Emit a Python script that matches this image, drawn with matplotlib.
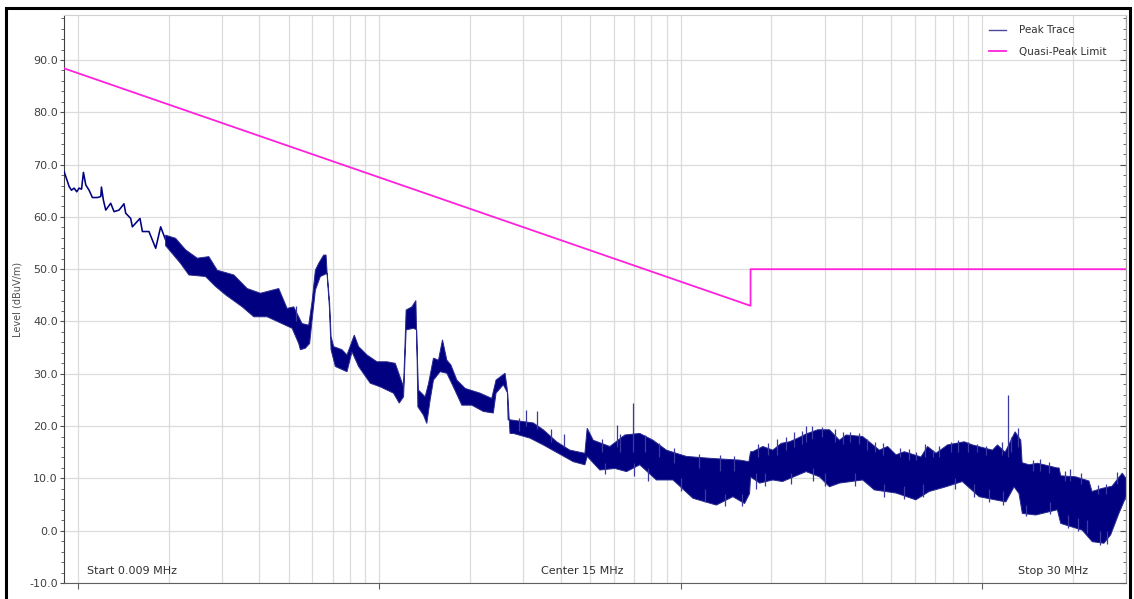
import numpy as np
import matplotlib
matplotlib.use('Agg')
import matplotlib.pyplot as plt
from matplotlib.patches import Rectangle
from matplotlib.ticker import FixedLocator, NullFormatter, MultipleLocator

# Peak trace, low-frequency part read as a single line (MHz, dBuV/m)
trace_f = [0.009, 0.00920, 0.00936, 0.00953, 0.00972, 0.00992, 0.01010, 0.01029,
           0.01044, 0.01063, 0.01090, 0.01118, 0.01162, 0.01192, 0.01198, 0.01216,
           0.01238, 0.01286, 0.01319, 0.01370, 0.01423, 0.01442, 0.01498, 0.01517,
           0.01608, 0.01638, 0.01722, 0.01813, 0.01883, 0.01956]
trace_db = [68.7, 67.1, 65.8, 65.1, 65.5, 64.8, 65.5, 65.3,
            68.5, 66.1, 65.1, 63.7, 63.7, 63.9, 65.7, 63.2,
            61.3, 62.6, 61.0, 61.3, 62.5, 60.7, 59.7, 58.1,
            59.7, 57.2, 57.2, 54.0, 58.1, 55.6]

# Peak trace, dense part: upper edge of the band
upper_f = [0.01956, 0.02111, 0.02279, 0.02491, 0.02721, 0.02901, 0.03292,
           0.03647, 0.04036, 0.04640, 0.04947, 0.05203, 0.05546, 0.05834, 0.05987,
           0.06139, 0.06295, 0.06540, 0.06661, 0.06712, 0.06847, 0.06921, 0.07059,
           0.07523, 0.07816, 0.08264, 0.08540, 0.09106, 0.09827, 0.1061, 0.1130,
           0.1204, 0.1228, 0.1283, 0.1323, 0.1331, 0.1349, 0.1420, 0.1458, 0.1513,
           0.1572, 0.1621, 0.1676, 0.1728, 0.1809, 0.1927, 0.2160, 0.2361, 0.2440,
           0.2614, 0.2660, 0.2675, 0.2715, 0.3244, 0.3500, 0.3877, 0.4290, 0.4810,
           0.4895, 0.5125, 0.5820, 0.6526, 0.7315, 0.8095, 0.8966, 1.044, 1.279,
           1.568, 1.683, 1.705, 1.733, 1.873, 2.021, 2.155, 2.296, 2.446, 2.607,
           2.849, 3.115, 3.362, 3.538, 4.015, 4.280, 4.559, 4.858, 5.180, 5.516,
           6.266, 6.590, 7.026, 7.387, 7.675, 8.717, 9.289, 10.82, 11.24, 11.92,
           12.86, 13.43, 13.57, 14.31, 15.25, 16.05, 17.72, 17.99, 18.22, 20.43,
           22.61, 23.14, 25.02, 26.95, 29.15, 30.0]
upper_db = [56.5, 55.9, 53.7, 52.1, 52.4, 49.8, 48.9,
            46.3, 45.4, 46.3, 42.5, 42.8, 39.6, 39.3, 43.8,
            49.8, 51.1, 52.7, 52.7, 49.5, 43.5, 37.1, 35.2,
            34.6, 33.6, 37.4, 35.2, 33.6, 32.3, 32.3, 32.0,
            27.5, 42.2, 42.8, 44.0, 37.1, 26.9, 25.6, 28.2, 33.0,
            32.6, 36.5, 32.6, 31.7, 28.8, 27.2, 26.3, 25.3, 28.8,
            30.1, 26.9, 21.2, 21.2, 20.6, 19.3, 17.0, 15.4, 14.8,
            19.6, 17.3, 16.1, 18.3, 18.6, 17.3, 15.4, 14.2, 13.8,
            13.5, 13.2, 15.1, 15.1, 16.1, 15.4, 16.7, 17.0, 17.7, 18.5,
            19.3, 19.3, 17.3, 18.3, 18.0, 16.7, 15.4, 16.1, 14.5, 15.1,
            14.1, 16.1, 14.8, 15.7, 16.4, 17.0, 16.4, 15.4, 16.4, 15.0,
            18.9, 17.3, 13.0, 12.6, 12.9, 12.6, 12.0, 12.0, 10.5, 10.3,
            9.5, 7.5, 8.1, 8.5, 11.0, 10.0]

# Peak trace, dense part: lower edge of the band
lower_f = [0.01956, 0.02193, 0.02336, 0.02653, 0.02864, 0.03091, 0.03512, 0.03836,
           0.04248, 0.05140, 0.05405, 0.05475, 0.05689, 0.05876, 0.05987, 0.06139,
           0.06377, 0.06712, 0.06832, 0.06921, 0.07150, 0.07816, 0.08121, 0.08540,
           0.09338, 0.1008, 0.1115, 0.1165, 0.1204, 0.1228, 0.1299, 0.1331, 0.1343,
           0.1402, 0.1438, 0.1475, 0.1513, 0.1592, 0.1676, 0.1762, 0.1879, 0.2028,
           0.2215, 0.2390, 0.2440, 0.2580, 0.2668, 0.2715, 0.2785, 0.3162, 0.3500,
           0.3925, 0.4400, 0.4810, 0.4895, 0.5393, 0.6046, 0.6611, 0.7315, 0.8306,
           0.9430, 1.098, 1.313, 1.490, 1.629, 1.692, 1.705, 1.827, 2.021, 2.176,
           2.607, 2.886, 3.115, 3.362, 4.015, 4.389, 5.180, 6.025, 6.675, 7.584,
           8.592, 9.775, 11.98, 12.76, 13.25, 13.59, 15.06, 17.76, 18.22, 21.48,
           23.19, 25.35, 26.68, 28.41, 30.0]
lower_db = [54.5, 51.1, 48.9, 48.6, 46.7, 45.1, 42.8, 40.9,
            40.9, 38.7, 35.8, 34.6, 34.9, 35.8, 40.3, 46.0,
            48.6, 49.2, 42.8, 34.6, 31.4, 30.4, 34.2, 31.4,
            28.2, 27.5, 26.3, 24.4, 25.6, 38.4, 38.7, 38.4, 23.7,
            22.1, 20.5, 25.0, 28.8, 30.4, 30.1, 27.5, 24.0, 24.0,
            22.8, 22.5, 26.3, 27.9, 26.3, 18.6, 18.6, 17.7, 16.4,
            14.8, 13.2, 12.6, 14.2, 11.6, 11.9, 11.3, 12.6, 9.7,
            9.7, 6.2, 4.9, 6.5, 5.2, 7.1, 10.3, 9.1, 9.7, 9.4,
            11.3, 10.3, 8.4, 9.1, 9.7, 7.8, 7.2, 5.9, 7.5, 8.4,
            9.4, 6.5, 5.5, 8.4, 7.1, 3.3, 3.0, 4.0, 1.4, 0.1,
            -2.1, -2.4, -0.8, 3.3, 6.5]

# narrow spikes sticking out of the band (MHz, bottom, top)
spike_f = [0.05311, 0.29, 0.3062, 0.3344, 0.37, 0.41, 0.55, 0.56, 0.6125, 0.63,
           0.6953, 0.70, 0.76, 0.78, 0.85, 0.95, 1.0, 1.15, 1.2, 1.35, 1.40, 1.50, 1.60,
           1.78, 1.80, 1.90, 1.95, 2.08, 2.24, 2.33, 2.38, 2.52, 2.607, 2.72, 2.75,
           2.95, 3.00, 3.25, 3.45, 3.65, 3.80, 3.90, 4.15, 4.42, 4.70, 4.72, 5.35,
           5.50, 5.70, 6.05, 6.35, 6.45, 6.85, 7.20, 7.90, 8.10, 8.30, 9.0, 9.40,
           9.6, 10.3, 10.5, 11.6, 11.7, 12.22, 12.5, 13.1, 14.0, 14.7, 15.6, 16.6,
           16.8, 18.8, 19.2, 19.6, 20.8, 21.3, 22.3, 24.2, 24.6, 25.7, 26.0, 28.0]
spike_lo = [40.0, 19.0, 20.0, 19.5, 17.0, 16.0, 15.0, 10.8, 16.0, 15.0,
            15.0, 10.5, 15.0, 9.5, 14.0, 13.0, 7.5, 12.0, 5.5, 11.5, 4.8, 11.5, 4.8,
            8.0, 14.0, 8.5, 14.5, 14.5, 15.5, 9.0, 16.0, 16.5, 17.0, 17.5, 9.5,
            18.0, 8.5, 17.0, 16.5, 17.0, 8.5, 16.5, 15.5, 15.0, 14.5, 6.5, 14.0,
            6.0, 13.5, 13.5, 6.5, 14.0, 14.0, 14.0, 15.0, 8.0, 15.0, 15.0, 6.5,
            15.0, 14.5, 5.5, 14.5, 5.0, 14.0, 15.0, 16.0, 2.8, 11.5, 11.5, 11.0,
            3.2, 9.5, 0.5, 9.5, 0.0, 9.0, -0.5, 7.0, -2.8, 7.0, -2.6, 9.0]
spike_hi = [43.0, 21.5, 23.1, 22.8, 19.5, 18.4, 17.5, 13.0, 20.2, 18.5,
            24.4, 13.0, 18.3, 12.0, 16.8, 15.8, 10.0, 14.6, 8.0, 14.5, 7.0, 14.2, 7.0,
            11.0, 16.5, 11.0, 16.8, 17.5, 18.0, 11.0, 18.8, 19.0, 20.0, 20.0, 12.0,
            19.8, 11.0, 19.5, 18.8, 18.9, 11.0, 18.6, 17.5, 17.0, 16.8, 9.0, 15.8,
            8.5, 15.6, 15.0, 9.0, 16.6, 15.5, 16.2, 17.0, 10.0, 17.4, 17.0, 9.0,
            16.5, 16.2, 8.0, 17.0, 7.5, 25.9, 18.0, 19.6, 5.0, 13.5, 13.8, 13.2,
            5.5, 11.5, 3.0, 11.8, 2.5, 11.0, 2.0, 8.8, 0.0, 9.0, 0.0, 11.3]

# Quasi-peak limit
limit_f = [0.009, 1.705, 1.705, 30.0]
limit_db = [88.4, 43.0, 50.0, 50.0]

fig = plt.figure(figsize=(11.34, 5.99), dpi=100)
ax = fig.add_axes([64 / 1134, 1 - 583 / 599, 1062 / 1134, 568 / 599])

ax.set_xscale('log')
ax.set_xlim(0.009, 30)
ax.set_ylim(-10, 98.6)

grid_c = '#dcdcdc'
minor_pos = [m * 10.0 ** e for e in range(-2, 2) for m in range(1, 10)]
minor_pos = [p for p in minor_pos if 0.009 <= p <= 30]
for p in minor_pos:
    ax.axvline(p, color=grid_c, lw=0.9, zorder=0)
for yv in range(-10, 100, 10):
    ax.axhline(yv, color=grid_c, lw=0.9, zorder=0)

navy = '#000080'
ax.plot(trace_f, trace_db, color=navy, lw=1.15, zorder=3)
band_x = list(upper_f) + list(lower_f[::-1])
band_y = list(upper_db) + list(lower_db[::-1])
ax.fill(band_x, band_y, facecolor=navy, edgecolor='#2a2a90', lw=0.7, zorder=3)
ax.vlines(spike_f, spike_lo, spike_hi, color='#3a3aa0', lw=0.9, zorder=3)
ax.plot([], [], color='#4a4a9a', lw=1.0, label='Peak Trace')
ax.plot(limit_f, limit_db, color='#ff22dd', lw=1.3, zorder=4, label='Quasi-Peak Limit')

ax.xaxis.set_major_locator(FixedLocator([0.01, 0.1, 1, 10]))
ax.xaxis.set_minor_locator(FixedLocator([]))
ax.xaxis.set_major_formatter(NullFormatter())
ax.tick_params(axis='x', which='major', length=4, width=0.8, color='#606060')

ax.yaxis.set_minor_locator(MultipleLocator(2))
ax.set_yticks(range(-10, 100, 10))
ax.set_yticklabels(['%.1f' % v for v in range(-10, 100, 10)])
ax.tick_params(axis='y', which='major', length=3, width=0.8, color='#505050',
               labelsize=8, labelcolor='#404040', pad=1.5)
ax.tick_params(axis='y', which='minor', length=2, width=0.6, color='#505050')

sec = ax.secondary_yaxis('right')
sec.yaxis.set_major_locator(MultipleLocator(10))
sec.yaxis.set_minor_locator(MultipleLocator(2))
sec.tick_params(which='both', direction='in', labelright=False, color='#505050')
sec.tick_params(which='major', length=4)
sec.tick_params(which='minor', length=2)
sec.spines['right'].set_color('#a0a0a0')

ax.spines['left'].set_color('#404040')
ax.spines['bottom'].set_color('#606060')
ax.spines['top'].set_color('#d0d0d0')
ax.spines['right'].set_color('#a0a0a0')

ax.set_ylabel('Level (dBuV/m)', fontsize=7, color='#505050', labelpad=5)

ax.text(23 / 1062, 12 / 568, 'Start 0.009 MHz', transform=ax.transAxes,
        fontsize=8, color='#303030', ha='left', va='center')
ax.text(518 / 1062, 12 / 568, 'Center 15 MHz', transform=ax.transAxes,
        fontsize=8, color='#303030', ha='center', va='center')
ax.text(1024 / 1062, 12 / 568, 'Stop 30 MHz', transform=ax.transAxes,
        fontsize=8, color='#303030', ha='right', va='center')

leg = ax.legend(loc='upper right', bbox_to_anchor=(0.991, 1.0), fontsize=7.5,
                frameon=False, handlelength=1.6, handletextpad=1.2,
                borderaxespad=0.6, labelspacing=1.1)
for t in leg.get_texts():
    t.set_color('#303030')

# outer frame of the screenshot
fig.patches.append(Rectangle((6 / 1134, -0.05), 1124 / 1134, 1.05 - 8 / 599,
                             transform=fig.transFigure, fill=False,
                             edgecolor='black', lw=2.2))

plt.savefig('out.png', dpi=100)
